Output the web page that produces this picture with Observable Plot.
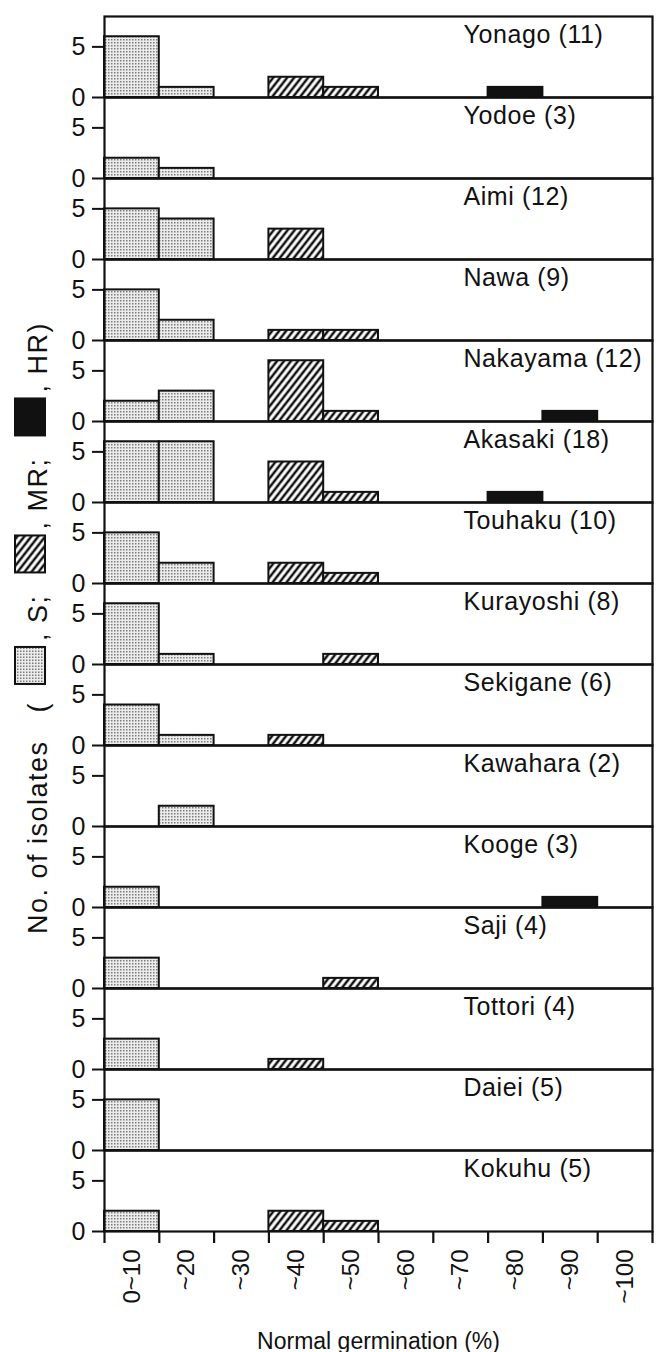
<!DOCTYPE html>
<html><head><meta charset="utf-8">
<script src="https://cdn.jsdelivr.net/npm/d3@7"></script>
<script src="https://cdn.jsdelivr.net/npm/@observablehq/plot@0.6"></script>
<style>
html,body{margin:0;padding:0;background:#fff;}
#chart svg{display:block;}
</style></head><body>
<svg width="0" height="0" style="position:absolute">
<defs>
<pattern id="stipple" patternUnits="userSpaceOnUse" width="3" height="3">
<rect width="3" height="3" fill="#ececec"/>
<rect x="0" y="0" width="1.5" height="1.5" fill="#7c7c7c"/>
</pattern>
<pattern id="hatch" patternUnits="userSpaceOnUse" width="5.5" height="10" patternTransform="rotate(38)">
<rect width="5.5" height="10" fill="#fff"/>
<line x1="2.75" y1="-1" x2="2.75" y2="11" stroke="#111" stroke-width="2.5"/>
</pattern>
<pattern id="hatchL" patternUnits="userSpaceOnUse" width="5.5" height="10" patternTransform="rotate(128)">
<rect width="5.5" height="10" fill="#fff"/>
<line x1="2.75" y1="-1" x2="2.75" y2="11" stroke="#111" stroke-width="2.5"/>
</pattern>
</defs></svg>
<div id="chart"></div>
<script>
const sites = ["Yonago","Yodoe","Aimi","Nawa","Nakayama","Akasaki","Touhaku","Kurayoshi","Sekigane","Kawahara","Kooge","Saji","Tottori","Daiei","Kokuhu"];
const totals = [11,3,12,9,12,18,10,8,6,2,3,4,4,5,5];
const binLabels = ["0~10","~20","~30","~40","~50","~60","~70","~80","~90","~100"];
const binStarts = [0,10,20,30,40,50,60,70,80,90];
// counts per site, per bin
const sCounts = [
  [6,1,0,0,0,0,0,0,0,0],
  [2,1,0,0,0,0,0,0,0,0],
  [5,4,0,0,0,0,0,0,0,0],
  [5,2,0,0,0,0,0,0,0,0],
  [2,3,0,0,0,0,0,0,0,0],
  [6,6,0,0,0,0,0,0,0,0],
  [5,2,0,0,0,0,0,0,0,0],
  [6,1,0,0,0,0,0,0,0,0],
  [4,1,0,0,0,0,0,0,0,0],
  [0,2,0,0,0,0,0,0,0,0],
  [2,0,0,0,0,0,0,0,0,0],
  [3,0,0,0,0,0,0,0,0,0],
  [3,0,0,0,0,0,0,0,0,0],
  [5,0,0,0,0,0,0,0,0,0],
  [2,0,0,0,0,0,0,0,0,0]
];
const mrCounts = [
  [0,0,0,2,1,0,0,0,0,0],
  [0,0,0,0,0,0,0,0,0,0],
  [0,0,0,3,0,0,0,0,0,0],
  [0,0,0,1,1,0,0,0,0,0],
  [0,0,0,6,1,0,0,0,0,0],
  [0,0,0,4,1,0,0,0,0,0],
  [0,0,0,2,1,0,0,0,0,0],
  [0,0,0,0,1,0,0,0,0,0],
  [0,0,0,1,0,0,0,0,0,0],
  [0,0,0,0,0,0,0,0,0,0],
  [0,0,0,0,0,0,0,0,0,0],
  [0,0,0,0,1,0,0,0,0,0],
  [0,0,0,1,0,0,0,0,0,0],
  [0,0,0,0,0,0,0,0,0,0],
  [0,0,0,2,1,0,0,0,0,0]
];
const hrCounts = [
  [0,0,0,0,0,0,0,1,0,0],
  [0,0,0,0,0,0,0,0,0,0],
  [0,0,0,0,0,0,0,0,0,0],
  [0,0,0,0,0,0,0,0,0,0],
  [0,0,0,0,0,0,0,0,1,0],
  [0,0,0,0,0,0,0,1,0,0],
  [0,0,0,0,0,0,0,0,0,0],
  [0,0,0,0,0,0,0,0,0,0],
  [0,0,0,0,0,0,0,0,0,0],
  [0,0,0,0,0,0,0,0,0,0],
  [0,0,0,0,0,0,0,0,1,0],
  [0,0,0,0,0,0,0,0,0,0],
  [0,0,0,0,0,0,0,0,0,0],
  [0,0,0,0,0,0,0,0,0,0],
  [0,0,0,0,0,0,0,0,0,0]
];
const yTicks = [0,5];

function rowsOf(counts) {
  const out = [];
  sites.forEach((site, i) => binStarts.forEach((b, j) => {
    if (counts[i][j] > 0) out.push({site, x1: b, x2: b + 10, n: counts[i][j]});
  }));
  return out;
}
const sRows = rowsOf(sCounts), mrRows = rowsOf(mrCounts), hrRows = rowsOf(hrCounts);
const labelRows = sites.map((s, i) => ({site: s, label: `${s} (${totals[i]})`}));
const edges = binStarts.concat([100]);
const centers = binStarts.map(b => b + 5);
const FONT = "'Liberation Sans', Arial, Helvetica, sans-serif";
const barStyle = {fy: "site", x1: "x1", x2: "x2", y1: 0, y2: "n", stroke: "#111", strokeWidth: 2};

const plot = Plot.plot({
  width: 658, height: 1352,
  marginTop: 13, marginBottom: 119, marginLeft: 104, marginRight: 6,
  style: {fontFamily: FONT, color: "#111", background: "#fff"},
  x: {domain: [0, 100]},
  y: {domain: [0, 8]},
  fy: {domain: sites, padding: 0, axis: null},
  marks: [
    Plot.rectY(sRows, {...barStyle, fill: "url(#stipple)"}),
    Plot.rectY(mrRows, {...barStyle, fill: "url(#hatch)"}),
    Plot.rectY(hrRows, {...barStyle, fill: "#111"}),
    Plot.frame({stroke: "#111", strokeWidth: 2.2}),
    Plot.axisY({ticks: yTicks, tickSize: 12, tickPadding: 7, fontSize: 25, label: null, strokeWidth: 2}),
    Plot.axisX({ticks: edges, tickSize: 12, tickFormat: () => "", label: null, strokeWidth: 2.2}),
    Plot.axisX({ticks: centers, tickSize: 0, tickPadding: 18, tickRotate: -90, fontSize: 24,
      tickFormat: d => binLabels[Math.round((d - 5) / 10)], label: null}),
    Plot.text(labelRows, {fy: "site", x: 65.5, y: 8, text: "label", textAnchor: "start",
      lineAnchor: "top", dy: 9, fontSize: 25, fill: "#111"}),
    Plot.text(["Normal germination (%)"], {fy: [sites[sites.length - 1]], x: 50, frameAnchor: "bottom",
      text: d => d, lineAnchor: "bottom", dy: 117, fontSize: 23, fill: "#111"})
  ]
});
document.getElementById("chart").appendChild(plot);

const svg = d3.select(plot);
// slight letter spacing on panel labels
svg.selectAll('g[aria-label="text"]').filter((d, i) => i === 0).attr("letter-spacing", 0.6);

// rotated y-axis title with pattern swatches
const cy = 628, baseX = 47;
const g = svg.append("g").attr("transform", `translate(${baseX},${cy}) rotate(-90)`)
  .attr("font-family", FONT).attr("font-size", 27).attr("fill", "#111")
  .attr("text-anchor", "start").attr("letter-spacing", 1.5);
const pieces = [
  {t: "No. of isolates"}, {gap: 28}, {t: "("}, {gap: 18},
  {box: "url(#stipple)"}, {gap: 6}, {t: ", S;"}, {gap: 22},
  {box: "url(#hatchL)"}, {gap: 6}, {t: ", MR;"}, {gap: 22},
  {box: "#111"}, {gap: 6}, {t: ", HR)"}
];
const BOX = 37;
let pos = 0;
const placed = [];
pieces.forEach(p => {
  if (p.t) {
    const el = g.append("text").text(p.t).attr("x", pos).attr("y", 0);
    placed.push(el);
    pos += el.node().getComputedTextLength();
  } else if (p.box) {
    const el = g.append("rect").attr("x", pos).attr("y", -32).attr("width", BOX).attr("height", 30)
      .attr("fill", p.box).attr("stroke", "#111").attr("stroke-width", 2);
    placed.push(el);
    pos += BOX;
  } else pos += p.gap;
});
const shift = -pos / 2;
placed.forEach(el => el.attr("x", +el.attr("x") + shift));
</script>
</body></html>
